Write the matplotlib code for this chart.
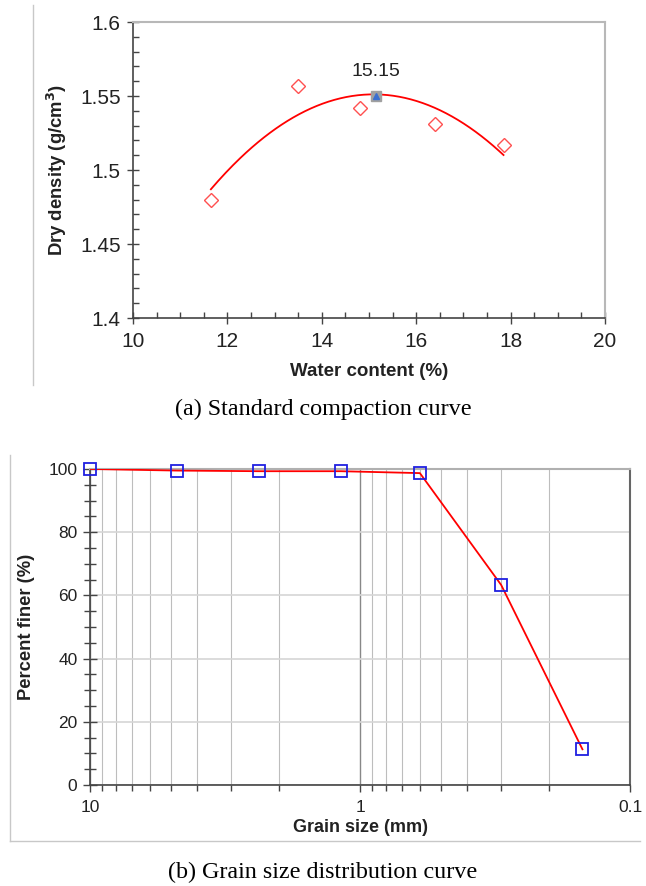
import numpy as np
import matplotlib
matplotlib.use("Agg")
import matplotlib.pyplot as plt
from matplotlib.ticker import FixedLocator, MultipleLocator, NullFormatter, FuncFormatter
from matplotlib.lines import Line2D

# ---------------- data ----------------
water_content = [11.65, 13.5, 14.8, 16.4, 17.85]
dry_density = [1.480, 1.557, 1.542, 1.531, 1.517]
opt_water = 15.15
opt_density = 1.550
opt_label = "15.15"

grain_size = [10.0, 4.75, 2.36, 1.18, 0.6, 0.3, 0.15]
percent_finer = [100.0, 99.5, 99.3, 99.3, 98.7, 63.3, 11.3]

comp_xticks = [10, 12, 14, 16, 18, 20]
comp_yticks = [1.4, 1.45, 1.5, 1.55, 1.6]
grain_xticks = [10, 1, 0.1]
grain_yticks = [0, 20, 40, 60, 80, 100]

caption_a = "(a) Standard compaction curve"
caption_b = "(b) Grain size distribution curve"

sans = ["Liberation Sans", "DejaVu Sans"]
serif = ["Liberation Serif", "DejaVu Serif"]
plt.rcParams['font.family'] = sans

W, H = 646, 886
fig = plt.figure(figsize=(W / 100, H / 100), dpi=100)

def fx(px):
    return px / W

def fy(py):
    return 1 - py / H

# decorative frame lines (figure borders)
fig.add_artist(Line2D([fx(33), fx(33)], [fy(5), fy(385)], color="#c8c8c8", lw=1.0))
fig.add_artist(Line2D([fx(10), fx(10)], [fy(455), fy(841)], color="#c8c8c8", lw=1.0))
fig.add_artist(Line2D([fx(10), fx(640)], [fy(841), fy(841)], color="#c8c8c8", lw=1.0))

# ---------------- (a) compaction ----------------
ax1 = fig.add_axes([fx(133), fy(318), fx(605) - fx(133), fy(22) - fy(318)])
ax1.set_xlim(10, 20)
ax1.set_ylim(1.4, 1.6)

coef = np.polyfit(water_content, dry_density, 2)
xs = np.linspace(min(water_content), max(water_content), 200)
ax1.plot(xs, np.polyval(coef, xs), color="#ff0000", lw=1.3, zorder=3)
ax1.plot(water_content, dry_density, linestyle="none", marker="D", ms=7.5,
         mfc="white", mec="#ff5050", mew=1.0, zorder=4)
ax1.plot([opt_water], [opt_density], marker="s", ms=7, color="#a0a0a0", zorder=5)
ax1.plot([opt_water], [opt_density], marker="^", ms=5, color="#3a6fd0", zorder=6)
ax1.text(opt_water, opt_density + 0.0165, opt_label, ha="center", va="center",
         fontsize=14, color="#222222")

ax1.xaxis.set_major_locator(FixedLocator(comp_xticks))
ax1.xaxis.set_minor_locator(MultipleLocator(0.5))
ax1.yaxis.set_major_locator(FixedLocator(comp_yticks))
ax1.yaxis.set_minor_locator(MultipleLocator(0.01))
ax1.yaxis.set_major_formatter(FuncFormatter(lambda v, p: f"{v:g}"))
ax1.tick_params(axis="both", which="major", direction="inout", length=8, width=1.0,
                color="#444444", labelsize=15, labelcolor="#222222")
ax1.tick_params(axis="both", which="minor", direction="in", length=4, width=1.0,
                color="#444444")
ax1.tick_params(axis="x", pad=6)
ax1.tick_params(axis="y", pad=5)
for s in ["left", "bottom"]:
    ax1.spines[s].set_color("#444444")
    ax1.spines[s].set_linewidth(1.2)
for s in ["top", "right"]:
    ax1.spines[s].set_color("#b8b8b8")
    ax1.spines[s].set_linewidth(1.5)
ax1.set_xlabel("Water content (%)", fontsize=13.5, fontweight="bold", labelpad=9, color="#222222")
ax1.set_ylabel("Dry density (g/cm$^\\mathbf{3}$)", fontsize=13.3, fontweight="bold", labelpad=8, color="#222222")

fig.text(0.5, fy(409), caption_a, ha="center", va="center", fontsize=17.4, family=serif)

# ---------------- (b) grain size ----------------
ax2 = fig.add_axes([fx(90), fy(785), fx(630) - fx(90), fy(469) - fy(785)])
ax2.set_xscale("log")
ax2.set_xlim(10, 0.1)
ax2.set_ylim(0, 100)

minor_x = [m * d for d in (0.1, 1.0) for m in range(2, 10)]
ax2.xaxis.set_major_locator(FixedLocator(grain_xticks))
ax2.xaxis.set_minor_locator(FixedLocator(minor_x))
ax2.xaxis.set_major_formatter(FuncFormatter(lambda v, p: f"{v:g}"))
ax2.xaxis.set_minor_formatter(NullFormatter())
ax2.yaxis.set_major_locator(FixedLocator(grain_yticks))
ax2.yaxis.set_minor_locator(MultipleLocator(5))

ax2.grid(True, which="major", axis="y", color="#d6d6d6", lw=1.2)
ax2.grid(True, which="minor", axis="x", color="#bdbdbd", lw=0.8)
ax2.grid(True, which="major", axis="x", color="#888888", lw=1.0)
ax2.set_axisbelow(True)

ax2.plot(grain_size, percent_finer, color="#ff0000", lw=1.3, zorder=3)
ax2.plot(grain_size, percent_finer, linestyle="none", marker="s", ms=9,
         mfc="none", mec="#2020e0", mew=1.3, zorder=4, clip_on=False)

ax2.tick_params(axis="x", which="major", direction="out", length=5, width=1.0,
                color="#444444", labelsize=12.5, labelcolor="#222222", pad=6)
ax2.tick_params(axis="x", which="minor", direction="out", length=4, width=1.0,
                color="#444444")
ax2.tick_params(axis="y", which="major", direction="inout", length=10, width=1.0,
                color="#444444", labelsize=12.5, labelcolor="#222222", pad=4)
ax2.tick_params(axis="y", which="minor", direction="inout", length=8, width=1.0,
                color="#444444")
for s in ["left", "bottom"]:
    ax2.spines[s].set_color("#444444")
    ax2.spines[s].set_linewidth(1.2)
for s in ["top", "right"]:
    ax2.spines[s].set_color("#b0b0b0")
    ax2.spines[s].set_linewidth(1.5)
ax2.spines["right"].set_color("#666666")
ax2.set_xlabel("Grain size (mm)", fontsize=13, fontweight="bold", labelpad=3, color="#222222")
ax2.set_ylabel("Percent finer (%)", fontsize=13.2, fontweight="bold", labelpad=10, color="#222222")

fig.text(0.5, fy(872), caption_b, ha="center", va="center", fontsize=17.4, family=serif)

fig.savefig("out.png", dpi=100)
